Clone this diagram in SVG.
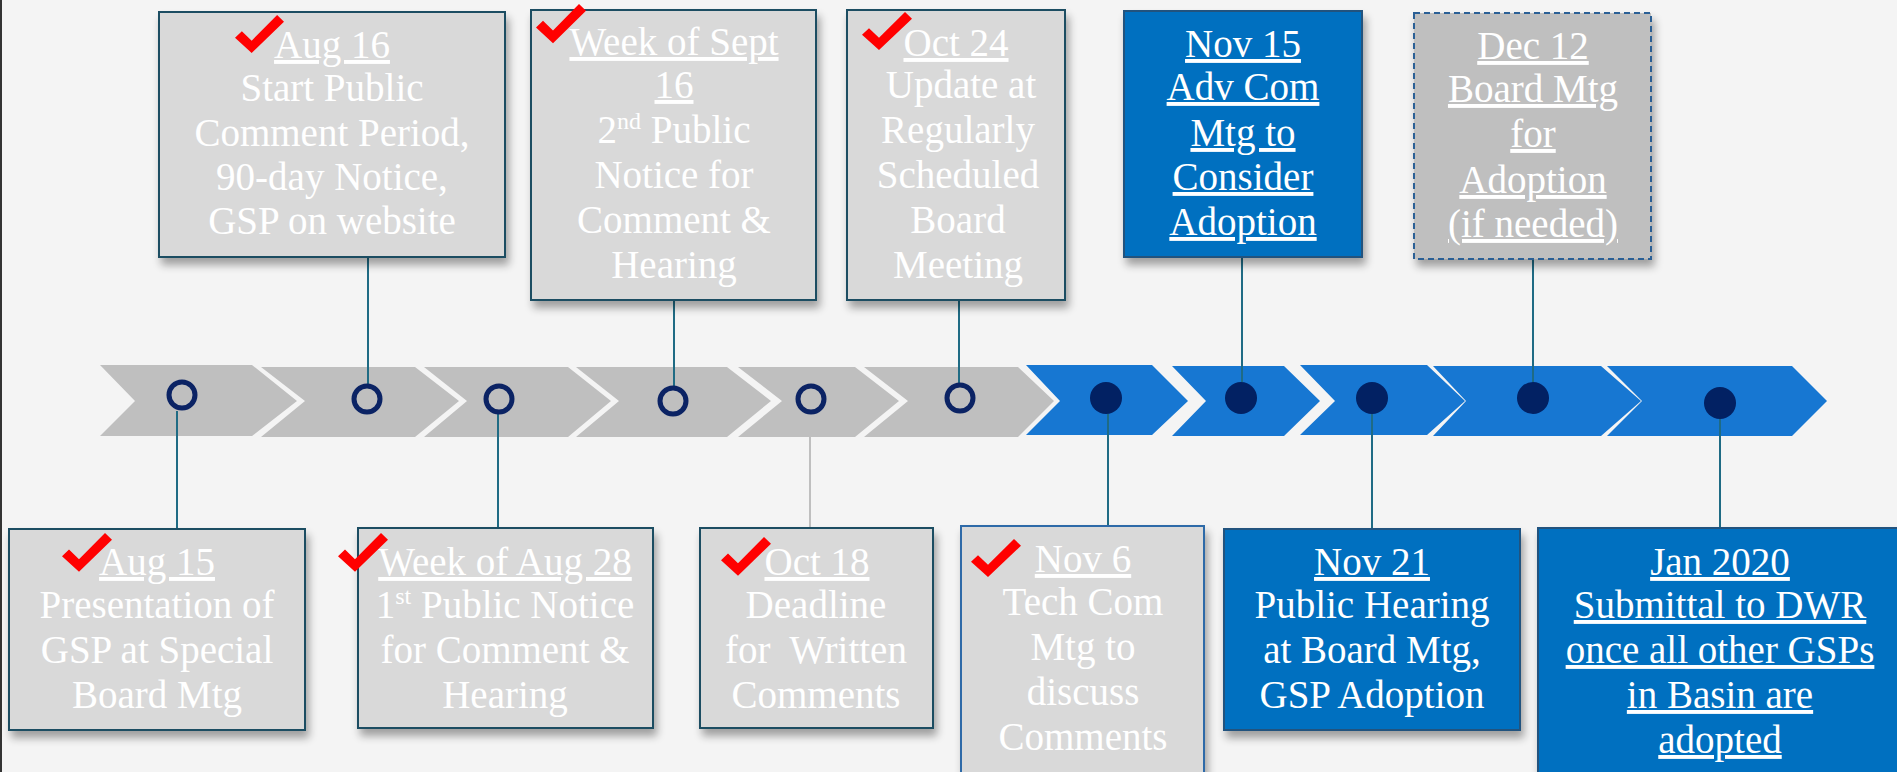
<svg xmlns="http://www.w3.org/2000/svg" width="1897" height="772" viewBox="0 0 1897 772">
<style>
.t{font-family:"Liberation Serif","Times New Roman",serif;font-size:39px;fill:#FFFFFF;text-anchor:middle}
.u{text-decoration:underline}
.gbox{fill:#D9D9D9;stroke:#1D4E62;stroke-width:2}
.bbox{fill:#0070C0;stroke:#24527E;stroke-width:2}
.gch{fill:#BFBFBF}
.bch{fill:#1777D2}
.ring{fill:none;stroke:#0B2364;stroke-width:5}
.dot{fill:#022163}
.con{stroke:#1F6B84;stroke-width:2;fill:none}
.tick{fill:#FF0000}
</style>
<defs>
<filter id="sh" x="-10%" y="-10%" width="130%" height="130%">
<feGaussianBlur in="SourceAlpha" stdDeviation="4"/>
<feOffset dx="3" dy="7" result="b"/>
<feComponentTransfer><feFuncA type="linear" slope="0.35"/></feComponentTransfer>
<feMerge><feMergeNode/><feMergeNode in="SourceGraphic"/></feMerge>
</filter>
<path id="tk" d="M0,24 L7,17 L17,27 L43,0 L50,7 L17,40 Z"/>
</defs>
<rect width="1897" height="772" fill="#F4F4F4"/>
<line x1="1" y1="0" x2="1" y2="772" stroke="#333" stroke-width="2"/>

<g id="timeline">
<path class="gch" d="M100,365 L252,365 L297,401 L252,436 L100,436 L135,401 Z"/>
<path class="gch" d="M261,367 L415,367 L459,401 L415,437 L261,437 L305,401 Z"/>
<path class="gch" d="M424,367 L568,367 L611,401 L568,437 L424,437 L467,401 Z"/>
<path class="gch" d="M576,367 L727,367 L771,401 L727,437 L576,437 L619,401 Z"/>
<path class="gch" d="M738,367 L855,367 L899,401 L855,437 L738,437 L782,401 Z"/>
<path class="gch" d="M864,367 L1018,367 L1054,401 L1018,437 L864,437 L908,401 Z"/>
<path class="bch" d="M1026,365 L1152,365 L1188,401 L1152,435 L1026,435 L1060,401 Z"/>
<path class="bch" d="M1172,366 L1284,366 L1320,401 L1284,436 L1172,436 L1206,401 Z"/>
<path class="bch" d="M1300,365 L1427,365 L1465,401 L1427,435 L1300,435 L1335,401 Z"/>
<path class="bch" d="M1433,366 L1601,366 L1641,401 L1601,436 L1433,436 L1466,401 Z"/>
<path class="bch" d="M1607,366 L1792,366 L1827,401 L1792,436 L1607,436 L1642,401 Z"/>
</g>

<g id="connectors">
<line class="con" x1="177" y1="411" x2="177" y2="529"/>
<line class="con" x1="368" y1="257" x2="368" y2="384"/>
<line class="con" x1="498" y1="414" x2="498" y2="528"/>
<line class="con" x1="674" y1="300" x2="674" y2="386"/>
<line stroke="#BFBFBF" stroke-width="2" x1="810" y1="414" x2="810" y2="528"/>
<line class="con" x1="959" y1="257" x2="959" y2="383"/>
<line class="con" x1="1108" y1="414" x2="1108" y2="526"/>
<line class="con" x1="1242" y1="257" x2="1242" y2="382"/>
<line class="con" x1="1372" y1="414" x2="1372" y2="529"/>
<line class="con" x1="1533" y1="259" x2="1533" y2="382"/>
<line class="con" x1="1720" y1="419" x2="1720" y2="528"/>
</g>

<g id="markers">
<circle class="ring" cx="182" cy="395" r="13"/>
<circle class="ring" cx="367" cy="399" r="13"/>
<circle class="ring" cx="499" cy="399" r="13"/>
<circle class="ring" cx="673" cy="401" r="13"/>
<circle class="ring" cx="811" cy="399" r="13"/>
<circle class="ring" cx="960" cy="398" r="13"/>
<ellipse class="dot" cx="1106" cy="398" rx="16" ry="16"/>
<ellipse class="dot" cx="1241" cy="398" rx="16" ry="16"/>
<ellipse class="dot" cx="1372" cy="398" rx="16" ry="16"/>
<ellipse class="dot" cx="1533" cy="398" rx="16" ry="16"/>
<ellipse class="dot" cx="1720" cy="403" rx="16" ry="16"/>
</g>

<g id="aug16">
<rect class="gbox" x="159" y="12" width="346" height="245" filter="url(#sh)"/>
<text class="t"><tspan class="u" x="332" y="58">Aug 16</tspan><tspan x="332" y="101">Start Public</tspan><tspan x="332" y="146">Comment Period,</tspan><tspan x="332" y="190">90-day Notice,</tspan><tspan x="332" y="234">GSP on website</tspan></text>
<use href="#tk" class="tick" transform="translate(235,15) scale(0.98,0.95)"/>
</g>

<g id="sept16">
<rect class="gbox" x="531" y="10" width="285" height="290" filter="url(#sh)"/>
<text class="t"><tspan class="u" x="674" y="55">Week of Sept</tspan><tspan class="u" x="674" y="98">16</tspan><tspan x="674" y="143">2<tspan font-size="24" dy="-14">nd</tspan><tspan dy="14"> Public</tspan></tspan><tspan x="674" y="188">Notice for</tspan><tspan x="674" y="233">Comment &amp;</tspan><tspan x="674" y="278">Hearing</tspan></text>
<use href="#tk" class="tick" transform="translate(536,4) scale(1,0.98)"/>
</g>

<g id="oct24">
<rect class="gbox" x="847" y="10" width="218" height="290" filter="url(#sh)"/>
<text class="t"><tspan class="u" x="956" y="56">Oct 24</tspan><tspan x="961" y="98">Update at</tspan><tspan x="958" y="143">Regularly</tspan><tspan x="958" y="188">Scheduled</tspan><tspan x="958" y="233">Board</tspan><tspan x="958" y="278">Meeting</tspan></text>
<use href="#tk" class="tick" transform="translate(862,12) scale(1,0.95)"/>
</g>

<g id="nov15">
<rect class="bbox" x="1124" y="11" width="238" height="246" filter="url(#sh)"/>
<text class="t u"><tspan x="1243" y="57">Nov 15</tspan><tspan x="1243" y="100">Adv Com</tspan><tspan x="1243" y="146">Mtg to</tspan><tspan x="1243" y="190">Consider</tspan><tspan x="1243" y="235">Adoption</tspan></text>
</g>

<g id="dec12">
<rect x="1414" y="13" width="237" height="246" fill="#BFBFBF" stroke="#2C5F95" stroke-width="2" stroke-dasharray="6,4" filter="url(#sh)"/>
<text class="t u"><tspan x="1533" y="59">Dec 12</tspan><tspan x="1533" y="102">Board Mtg</tspan><tspan x="1533" y="147">for</tspan><tspan x="1533" y="193">Adoption</tspan><tspan x="1533" y="237">(if needed)</tspan></text>
</g>

<g id="aug15">
<rect class="gbox" x="9" y="529" width="296" height="201" filter="url(#sh)"/>
<text class="t"><tspan class="u" x="157" y="575">Aug 15</tspan><tspan x="157" y="618">Presentation of</tspan><tspan x="157" y="663">GSP at Special</tspan><tspan x="157" y="708">Board Mtg</tspan></text>
<use href="#tk" class="tick" transform="translate(62,533) scale(1,0.97)"/>
</g>

<g id="aug28">
<rect class="gbox" x="358" y="528" width="295" height="200" filter="url(#sh)"/>
<text class="t"><tspan class="u" x="505" y="575">Week of Aug 28</tspan><tspan x="505" y="618">1<tspan font-size="24" dy="-14">st</tspan><tspan dy="14"> Public Notice</tspan></tspan><tspan x="505" y="663">for Comment &amp;</tspan><tspan x="505" y="708">Hearing</tspan></text>
<use href="#tk" class="tick" transform="translate(338,533) scale(1,0.97)"/>
</g>

<g id="oct18">
<rect class="gbox" x="700" y="528" width="233" height="200" filter="url(#sh)"/>
<text class="t" xml:space="preserve"><tspan class="u" x="817" y="575">Oct 18</tspan><tspan x="816" y="618">Deadline</tspan><tspan x="816" y="663">for  Written</tspan><tspan x="816" y="708">Comments</tspan></text>
<use href="#tk" class="tick" transform="translate(721,537) scale(1,0.97)"/>
</g>

<g id="nov6">
<rect x="961" y="526" width="243" height="260" fill="#D9D9D9" stroke="#2E6BA8" stroke-width="2" filter="url(#sh)"/>
<text class="t"><tspan class="u" x="1083" y="572">Nov 6</tspan><tspan x="1083" y="615">Tech Com</tspan><tspan x="1083" y="660">Mtg to</tspan><tspan x="1083" y="705">discuss</tspan><tspan x="1083" y="750">Comments</tspan></text>
<use href="#tk" class="tick" transform="translate(971,539) scale(1,0.95)"/>
</g>

<g id="nov21">
<rect class="bbox" x="1224" y="529" width="296" height="201" filter="url(#sh)"/>
<text class="t"><tspan class="u" x="1372" y="575">Nov 21</tspan><tspan x="1372" y="618">Public Hearing</tspan><tspan x="1372" y="663">at Board Mtg,</tspan><tspan x="1372" y="708">GSP Adoption</tspan></text>
</g>

<g id="jan2020">
<rect class="bbox" x="1538" y="528" width="370" height="260" filter="url(#sh)"/>
<text class="t u"><tspan x="1720" y="575">Jan 2020</tspan><tspan x="1720" y="618">Submittal to DWR</tspan><tspan x="1720" y="663">once all other GSPs</tspan><tspan x="1720" y="708">in Basin are</tspan><tspan x="1720" y="753">adopted</tspan></text>
</g>
</svg>
